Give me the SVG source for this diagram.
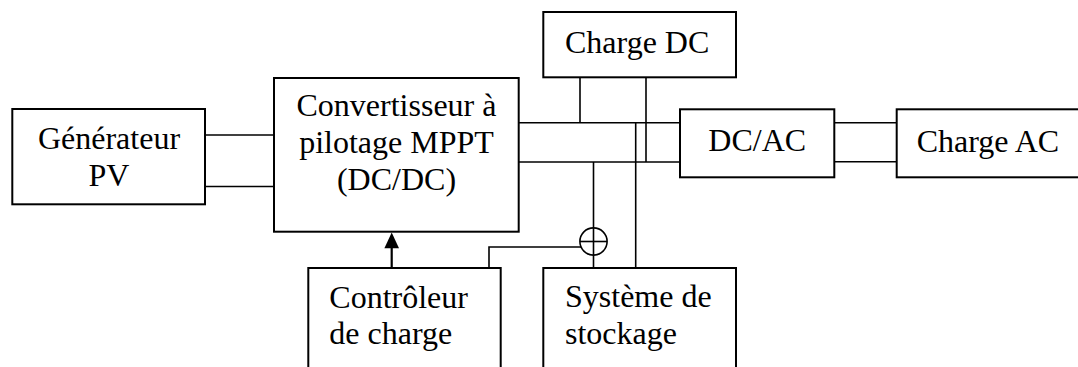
<svg xmlns="http://www.w3.org/2000/svg" width="1078" height="367" viewBox="0 0 1078 367">
<style>
.box{fill:#fff;stroke:#000;stroke-width:2}
.w{fill:none;stroke:#000;stroke-width:1.6}
.t{font-family:'Liberation Serif','Times New Roman',Times,'DejaVu Serif',serif;font-size:32px;fill:#000}
.c{text-anchor:middle}
</style>
<g id="connectors">
<line class="w" x1="205" y1="135" x2="274" y2="135"/>
<line class="w" x1="205" y1="186.5" x2="274" y2="186.5"/>
<line class="w" x1="519" y1="122.7" x2="680" y2="122.7"/>
<line class="w" x1="519" y1="162" x2="680" y2="162"/>
<line class="w" x1="580" y1="77" x2="580" y2="122.7"/>
<line class="w" x1="646" y1="77" x2="646" y2="162"/>
<line class="w" x1="635.7" y1="122.7" x2="635.7" y2="268"/>
<line class="w" x1="593.5" y1="162" x2="593.5" y2="268"/>
<circle class="w" cx="593.5" cy="241.5" r="13.6"/>
<line class="w" x1="580" y1="241.5" x2="607" y2="241.5"/>
<polyline class="w" points="489,268 489,247 581,247"/>
<line class="w" x1="834" y1="122.7" x2="897" y2="122.7"/>
<line class="w" x1="834" y1="161.7" x2="897" y2="161.7"/>
<line x1="391.7" y1="268" x2="391.7" y2="246" stroke="#000" stroke-width="2.2"/>
<path d="M391.7,232.5 L399,248.3 L384.4,248.3 Z" fill="#000"/>
</g>
<g id="generateur">
<rect class="box" x="12.3" y="109" width="192.7" height="95.3"/>
<text class="t c" x="109" y="149">Générateur</text>
<text class="t c" x="109" y="186">PV</text>
</g>
<g id="convertisseur">
<rect class="box" x="274" y="78" width="244.7" height="153.7"/>
<text class="t c" x="396.5" y="116">Convertisseur à</text>
<text class="t c" x="396.5" y="153.3">pilotage MPPT</text>
<text class="t c" x="396.5" y="190">(DC/DC)</text>
</g>
<g id="charge-dc">
<rect class="box" x="543.3" y="12" width="192.7" height="65.3"/>
<text class="t" x="565" y="53.3">Charge DC</text>
</g>
<g id="dc-ac">
<rect class="box" x="680" y="109.3" width="154.3" height="68"/>
<text class="t c" x="757.2" y="150.7">DC/AC</text>
</g>
<g id="charge-ac">
<rect class="box" x="896.7" y="109.3" width="190" height="68"/>
<text class="t" x="916.7" y="152">Charge AC</text>
</g>
<g id="controleur">
<rect class="box" x="308.3" y="268" width="192.4" height="110"/>
<text class="t" x="329.3" y="307.7">Contrôleur</text>
<text class="t" x="329.3" y="344.3">de charge</text>
</g>
<g id="stockage">
<rect class="box" x="543.3" y="268" width="192.7" height="110"/>
<text class="t" x="565" y="306.7">Système de</text>
<text class="t" x="565" y="343.5">stockage</text>
</g>
</svg>
